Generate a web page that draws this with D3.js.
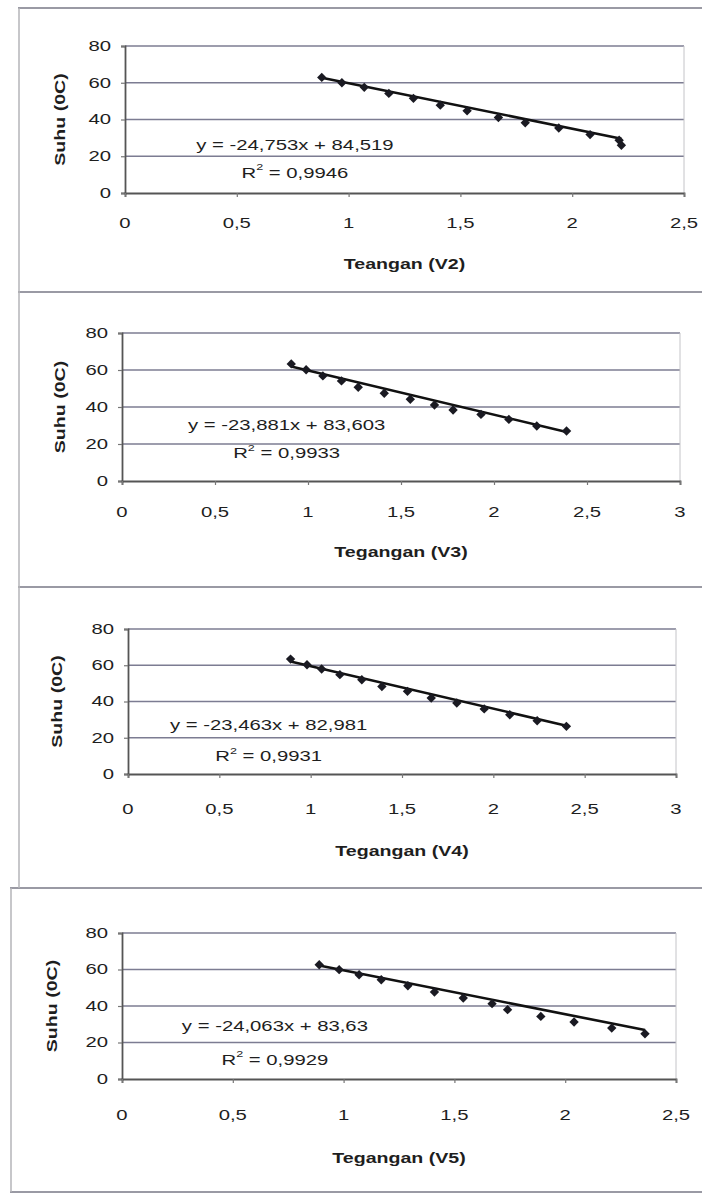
<!DOCTYPE html>
<html>
<head>
<meta charset="utf-8">
<script src="https://cdn.jsdelivr.net/npm/d3@7"></script>
<style>
  html, body { margin: 0; padding: 0; background: #fff; }
  svg { display: block; }
  text { font-family: "Liberation Sans", Arial, sans-serif; fill: #1e1e1e; }
</style>
</head>
<body>
<div id="chart"></div>
<script>
// values (comma = decimal separator in labels)
const yTicks = [0, 20, 40, 60, 80];
const xTicksShort = [0, 0.5, 1, 1.5, 2, 2.5];
const xTicksLong = [0, 0.5, 1, 1.5, 2, 2.5, 3];

const v2Volt = [0.88, 0.97, 1.07, 1.18, 1.29, 1.41, 1.53, 1.67, 1.79, 1.94, 2.08, 2.21, 2.22];
const v2Temp = [62.9, 60.0, 57.5, 54.2, 51.5, 47.8, 44.7, 41.1, 38.2, 35.4, 31.8, 28.7, 26.0];

const v3Volt = [0.91, 0.99, 1.08, 1.18, 1.27, 1.41, 1.55, 1.68, 1.78, 1.93, 2.08, 2.23, 2.39];
const v3Temp = [63.3, 60.1, 56.8, 54.1, 50.7, 47.4, 44.2, 41.1, 38.4, 36.0, 33.3, 29.7, 27.0];

const v4Volt = [0.89, 0.98, 1.06, 1.16, 1.28, 1.39, 1.53, 1.66, 1.80, 1.95, 2.09, 2.24, 2.40];
const v4Temp = [63.4, 60.3, 57.9, 54.8, 52.0, 48.3, 45.6, 41.9, 39.2, 35.9, 32.7, 29.4, 26.3];

const v5Volt = [0.89, 0.98, 1.07, 1.17, 1.29, 1.41, 1.54, 1.67, 1.74, 1.89, 2.04, 2.21, 2.36];
const v5Temp = [62.6, 59.9, 57.1, 54.4, 51.1, 47.7, 44.4, 41.3, 38.0, 34.3, 31.2, 27.9, 24.8];

const slopes = [-24.753, -23.881, -23.463, -24.063];
const intercepts = [84.519, 83.603, 82.981, 83.63];
const r2Labels = ['0,9946', '0,9933', '0,9931', '0,9929'];
const xTitles = ['Teangan (V2)', 'Tegangan (V3)', 'Tegangan (V4)', 'Tegangan (V5)'];
const yTitle = 'Suhu (0C)';

const series = [
    { volt: v2Volt, temp: v2Temp, ticks: xTicksShort },
    { volt: v3Volt, temp: v3Temp, ticks: xTicksLong },
    { volt: v4Volt, temp: v4Temp, ticks: xTicksLong },
    { volt: v5Volt, temp: v5Temp, ticks: xTicksShort }
];

// layout of each scanned panel (pixels), label anchors in data units
const layout = [
    { left: 125, right: 684, top: 46, bottom: 193, tickGap: 30, titleGap: 71, yTitleX: 60, eq: [0.76, 26.0], r2y: 10.9 },
    { left: 122, right: 680, top: 333, bottom: 481, tickGap: 31, titleGap: 71, yTitleX: 60, eq: [0.885, 30.2], r2y: 14.9 },
    { left: 128, right: 676, top: 629, bottom: 774, tickGap: 35, titleGap: 77, yTitleX: 57, eq: [0.77, 27.2], r2y: 9.7 },
    { left: 122, right: 676, top: 933, bottom: 1079, tickGap: 36, titleGap: 79, yTitleX: 52, eq: [0.69, 28.8], r2y: 10.6 }
];
const frameLines = [8, 292, 587, 888, 1192];

const W = 702, H = 1196;
const STRETCH = 1.4; // scan is stretched sideways, text follows it
const comma = v => String(v).replace('.', ',');

const svg = d3.select('#chart').append('svg')
    .attr('width', W)
    .attr('height', H)
    .attr('viewBox', [0, 0, W, H]);

// page frame of the scan
svg.append('g')
    .selectAll('line')
    .data(frameLines)
    .join('line')
    .attr('x1', (d, i) => i >= 3 ? 10 : 18)
    .attr('x2', 702)
    .attr('y1', d => d)
    .attr('y2', d => d)
    .attr('stroke', '#9a9aa4')
    .attr('stroke-width', 2);
svg.append('line')
    .attr('x1', 19).attr('x2', 19).attr('y1', 8).attr('y2', 888)
    .attr('stroke', '#b4b4b8').attr('stroke-width', 1.5);
svg.append('line')
    .attr('x1', 11).attr('x2', 11).attr('y1', 888).attr('y2', 1192)
    .attr('stroke', '#b4b4b8').attr('stroke-width', 1.5);

function label(parent, x, y, txt, opts = {}) {
    const g = parent.append('g')
        .attr('transform', `translate(${x},${y}) rotate(${opts.rotate || 0}) scale(${opts.sx || STRETCH},1)`);
    const t = g.append('text')
        .attr('text-anchor', opts.anchor || 'middle')
        .attr('dominant-baseline', 'central')
        .attr('font-size', opts.size || 14)
        .attr('font-weight', opts.weight || 'normal')
        .text(txt);
    return t;
}

series.forEach((s, i) => {
    const L = layout[i];
    const g = svg.append('g');

    const x = d3.scaleLinear()
        .domain([0, d3.max(s.ticks)])
        .range([L.left, L.right]);
    const y = d3.scaleLinear()
        .domain([0, 80])
        .range([L.bottom, L.top]);

    // gridlines
    g.append('g')
        .selectAll('line')
        .data(yTicks.filter(d => d > 0))
        .join('line')
        .attr('x1', L.left)
        .attr('x2', L.right)
        .attr('y1', d => y(d))
        .attr('y2', d => y(d))
        .attr('stroke', '#7c7c92')
        .attr('stroke-width', 1.6);

    // plot area right edge
    g.append('line')
        .attr('x1', L.right).attr('x2', L.right)
        .attr('y1', L.top).attr('y2', L.bottom)
        .attr('stroke', '#c4c4c8').attr('stroke-width', 1);

    // axes
    const yAxis = g.append('g')
        .attr('transform', `translate(${L.left},0)`)
        .call(d3.axisLeft(y).tickValues(yTicks).tickSize(4).tickFormat(''));
    const xAxis = g.append('g')
        .attr('transform', `translate(0,${L.bottom})`)
        .call(d3.axisBottom(x).tickValues(s.ticks).tickSize(4).tickFormat(''));
    [yAxis, xAxis].forEach(a => {
        a.select('.domain').attr('stroke', '#555').attr('stroke-width', 1.8);
        a.selectAll('.tick line').attr('stroke', '#777').attr('stroke-width', 1.2);
    });

    // tick labels
    yTicks.forEach(t => label(g, L.left - 14, y(t), comma(t), { anchor: 'end', size: 14.5 }));
    s.ticks.forEach(t => label(g, x(t), L.bottom + L.tickGap, comma(t), { size: 14.5 }));

    // axis titles
    label(g, (L.left + L.right) / 2, L.bottom + L.titleGap, xTitles[i], { size: 14, weight: 'bold' });
    label(g, L.yTitleX, (L.top + L.bottom) / 2, yTitle, { size: 14, weight: 'bold', rotate: -90, sx: 1.4 });

    // linear trendline over the measured range
    const ext = d3.extent(s.volt);
    const line = d3.line()
        .x(d => x(d))
        .y(d => y(slopes[i] * d + intercepts[i]));
    g.append('path')
        .datum(ext)
        .attr('d', line)
        .attr('fill', 'none')
        .attr('stroke', '#111')
        .attr('stroke-width', 2.6);

    // diamond markers
    g.append('g')
        .selectAll('path')
        .data(d3.zip(s.volt, s.temp))
        .join('path')
        .attr('transform', d => `translate(${x(d[0])},${y(d[1])}) rotate(45)`)
        .attr('d', d3.symbol(d3.symbolSquare, 44))
        .attr('fill', '#1a1a22');

    // regression label
    const eqText = `y = ${comma(slopes[i])}x + ${comma(intercepts[i])}`;
    label(g, x(L.eq[0]), y(L.eq[1]), eqText, { size: 14.5 });
    const r2 = label(g, x(L.eq[0]), y(L.r2y), 'R', { size: 14.5 });
    r2.append('tspan').attr('font-size', 9).attr('dy', -6).text('2');
    r2.append('tspan').attr('dy', 6).text(` = ${r2Labels[i]}`);
});
</script>
</body>
</html>
